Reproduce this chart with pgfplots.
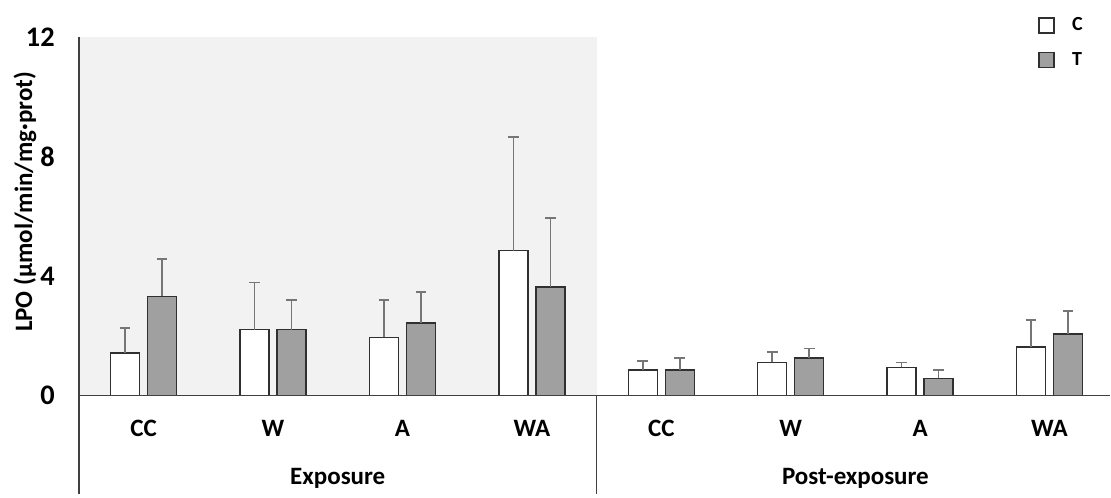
\documentclass[border=0pt]{standalone}
\usepackage{pgfplots}
\pgfplotsset{compat=1.18}
\usepackage{fontspec}
\setmainfont{Carlito}
\definecolor{bgshade}{HTML}{F2F2F2}
\definecolor{tgray}{HTML}{A0A0A0}
\definecolor{edge}{HTML}{303030}
\definecolor{errc}{HTML}{767676}
\definecolor{axc}{HTML}{404040}
\newcommand{\lblfont}{\fontsize{15pt}{18pt}\selectfont\bfseries}
\begin{document}
\begin{tikzpicture}
\path (-47.4pt,-2.4pt) rectangle (619.2pt,296.4pt);
\begin{axis}[
  scale only axis,
  width=619.2pt, height=274.2pt,
  xmin=-0.5, xmax=7.47,
  ymin=-3.28, ymax=12,
  clip=false,
  axis line style={draw=none},
  ybar=4.8pt, bar width=17.4pt,
  xtick={0,...,7},
  xticklabels={CC,W,A,WA,CC,W,A,WA},
  ytick={0,4,8,12},
  major tick length=0pt,
  tick style={draw=none},
  xtick pos=bottom, ytick pos=left,
  /pgf/number format/assume math mode=true,
  xticklabel style={font=\lblfont, anchor=base, yshift=34.2pt},
  yticklabel style={font=\fontsize{17pt}{20pt}\selectfont\bfseries, anchor=east, inner sep=0pt, xshift=-14.4pt},
  ylabel={LPO (µmol/min/mg·prot)},
  ylabel style={font=\lblfont, at={(rel axis cs:0,0.639)}, anchor=center, yshift=32.4pt},
  legend style={draw=none, fill=none, at={(rel axis cs:0.925,1.058)}, anchor=north west,
    font=\fontsize{12pt}{14pt}\selectfont\bfseries, row sep=7.6pt,
    legend cell align=left,
    /tikz/every odd column/.append style={column sep=8.4pt}},
  legend image code/.code={\draw[#1] (0pt,-4.5pt) rectangle (9pt,4.5pt);},
  error bars/y dir=plus,
  error bars/y explicit,
  error bars/error bar style={color=errc, line width=1pt},
  error bars/error mark options={rotate=90, mark size=3.2pt, color=errc, line width=1pt},
]
\fill[bgshade] (axis cs:-0.5,0) rectangle (axis cs:3.5,12);
\addplot[fill=white, draw=edge, line width=0.9pt] table[x=x, y=y, y error=e] {
x y e
0 1.43 0.83
1 2.21 1.58
2 1.95 1.26
3 4.85 3.80
4 0.85 0.31
5 1.11 0.36
6 0.95 0.16
7 1.63 0.89
};
\addplot[fill=tgray, draw=edge, line width=0.9pt] table[x=x, y=y, y error=e] {
x y e
0 3.32 1.26
1 2.21 1.00
2 2.43 1.04
3 3.64 2.31
4 0.85 0.42
5 1.26 0.32
6 0.58 0.27
7 2.06 0.78
};
\legend{C,T}
\draw[axc, line width=0.8pt] (axis cs:-0.5,0) -- (axis cs:7.47,0);
\draw[axc, line width=0.8pt] (axis cs:-0.5,12) -- (axis cs:-0.5,-3.28);
\draw[axc, line width=0.8pt] (axis cs:3.5,0) -- (axis cs:3.5,-3.28);
\node[anchor=base, font=\lblfont] at ([yshift=5.4pt]axis cs:1.5,-3.28) {Exposure};
\node[anchor=base, font=\lblfont] at ([yshift=5.4pt]axis cs:5.5,-3.28) {Post-exposure};
\end{axis}
\end{tikzpicture}
\end{document}
